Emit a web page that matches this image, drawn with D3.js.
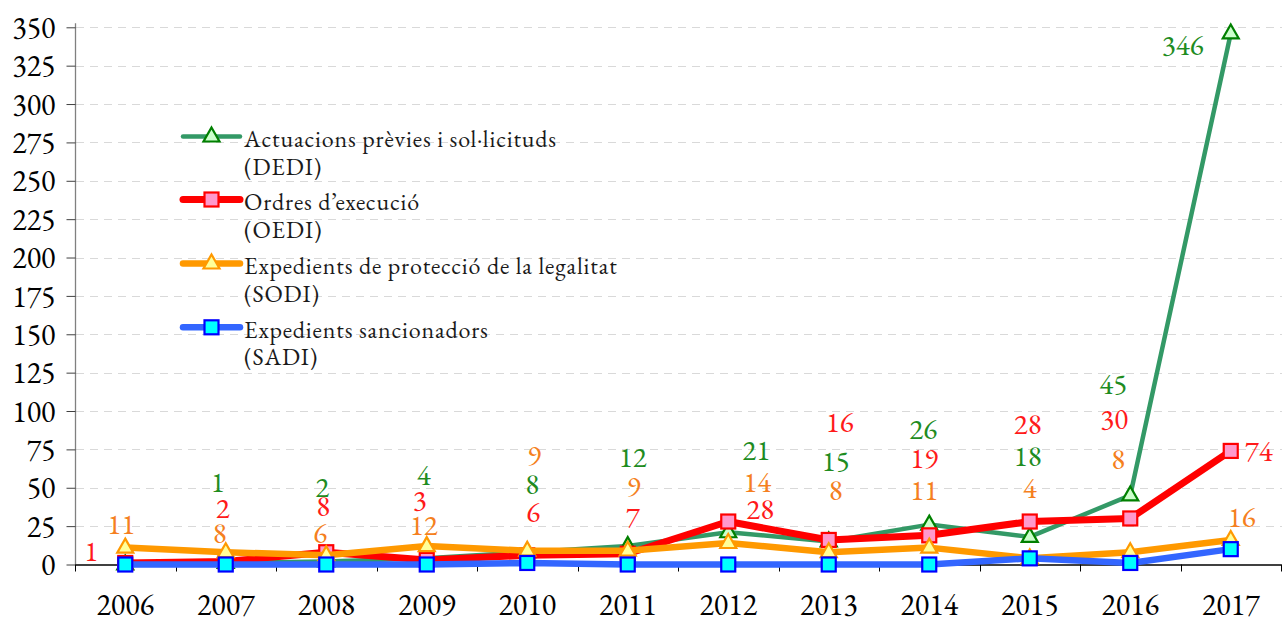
<!DOCTYPE html>
<html>
<head>
<meta charset="utf-8">
<script src="https://cdn.jsdelivr.net/npm/d3@7"></script>
<style>
  html, body { margin: 0; padding: 0; background: #fff; }
  svg { display: block; }
</style>
</head>
<body>
<svg id="chart" width="1282" height="619"></svg>
<script>
// ---------- data ----------
const years = ["2006","2007","2008","2009","2010","2011","2012","2013","2014","2015","2016","2017"];
const yTicks = [0,25,50,75,100,125,150,175,200,225,250,275,300,325,350];

const dediValues = [0, 1, 2, 4, 8, 12, 21, 15, 26, 18, 45, 346];
const oediValues = [1, 2, 8, 3, 6, 7, 28, 16, 19, 28, 30, 74];
const sodiValues = [11, 8, 6, 12, 9, 9, 14, 8, 11, 4, 8, 16];
const sadiValues = [0, 0, 0, 0, 1, 0, 0, 0, 0, 4, 1, 10];

const dediLabels = [null, "1", "2", "4", "8", "12", "21", "15", "26", "18", "45", "346"];
const oediLabels = ["1", "2", "8", "3", "6", "7", "28", "16", "19", "28", "30", "74"];
const sodiLabels = ["11", "8", "6", "12", "9", "9", "14", "8", "11", "4", "8", "16"];

// label placement (layout only): vertical anchor in axis units, horizontal shift in px
const dediLabelAt = [0, 53.6, 50.3, 58.1, 52.3, 69.9, 74.5, 67.3, 88.2, 70.5, 117.6, 338.3];
const oediLabelAt = [8.5, 36.6, 37.9, 41.8, 34.0, 30.7, 35.9, 92.7, 69.0, 91.4, 94.7, 73.8];
const sodiLabelAt = [26.1, 20.2, 20.2, 25.5, 71.0, 50.9, 53.6, 48.3, 48.3, 49.6, 68.6, 30.7];
const dediLabelDx = [0, -8, -4, -3, 5, 5, 28, 7, -6, -2, -17, -48];
const oediLabelDx = [-34, -3, -3, -7, 6, 5, 32, 11, -5, -2, -16, 28];
const sodiLabelDx = [-4, -6, -6, -3, 7, 6, 29, 7, -5, 0, -12, 11];

const series = [
  { name: ["Actuacions prèvies i sol·licituds", "(DEDI)"], values: dediValues, labels: dediLabels, labelAt: dediLabelAt, labelDx: dediLabelDx,
    line: "#339966", width: 4.5, marker: "triangle", mFill: "#ccffcc", mStroke: "#008000", text: "#1f8c1f" },
  { name: ["Ordres d’execució", "(OEDI)"], values: oediValues, labels: oediLabels, labelAt: oediLabelAt, labelDx: oediLabelDx,
    line: "#ff0000", width: 7, marker: "square", mFill: "#ff99cc", mStroke: "#ff0000", text: "#ff1a1a" },
  { name: ["Expedients de protecció de la legalitat", "(SODI)"], values: sodiValues, labels: sodiLabels, labelAt: sodiLabelAt, labelDx: sodiLabelDx,
    line: "#ff9900", width: 6.5, marker: "triangle", mFill: "#ffff99", mStroke: "#ff9900", text: "#f57f20" },
  { name: ["Expedients sancionadors", "(SADI)"], values: sadiValues, labels: null,
    line: "#3366ff", width: 6.5, marker: "square", mFill: "#00ffff", mStroke: "#0000ff", text: "#0000ff" }
];

const FONT = "'EB Garamond', 'Liberation Serif', serif";

// ---------- layout ----------
const svg = d3.select("#chart");
const x = d3.scaleBand().domain(years).range([75, 1281]).paddingInner(0).paddingOuter(0);
const y = d3.scaleLinear().domain([0, 350]).range([564.5, 27.3]);
const cx = d => x(d) + x.bandwidth() / 2;

// gridlines
svg.append("g")
  .selectAll("line")
  .data(yTicks.filter(t => t > 0))
  .join("line")
  .attr("x1", 76).attr("x2", 1282)
  .attr("y1", d => Math.round(y(d)) + 0.5).attr("y2", d => Math.round(y(d)) + 0.5)
  .attr("stroke", "#d9d9d9").attr("stroke-width", 1).attr("stroke-dasharray", "8,6");

// y axis
const yAxis = d3.axisLeft(y).tickValues(yTicks).tickSize(9).tickPadding(11).tickFormat(d3.format("d"));
const gy = svg.append("g").attr("transform", "translate(75.5,0)").call(yAxis);
gy.select(".domain").attr("stroke", "#808080").attr("stroke-width", 1.3).attr("d", `M0,${y(0)}V${y(350)-4}`);
gy.selectAll(".tick line").attr("stroke", "#404040");
gy.selectAll(".tick text").attr("dy", "0.34em")
  .style("font-family", FONT).style("font-size", "30px").attr("fill", "#000");

// x axis
const xAxis = d3.axisBottom(x).tickSize(0).tickPadding(0);
const gx = svg.append("g").attr("transform", `translate(0,${y(0)})`).call(xAxis);
gx.select(".domain").attr("stroke", "#000").attr("stroke-width", 1.3);
gx.selectAll(".tick text").attr("dy", 0).attr("y", 50)
  .style("font-family", FONT).style("font-size", "30px").attr("fill", "#000");
// tick marks between categories
svg.append("g").selectAll("line")
  .data(d3.range(years.length + 1))
  .join("line")
  .attr("x1", i => Math.round(75 + i * x.bandwidth()) + 0.5)
  .attr("x2", i => Math.round(75 + i * x.bandwidth()) + 0.5)
  .attr("y1", y(0)).attr("y2", y(0) + 7)
  .attr("stroke", "#000").attr("stroke-width", 1);

// marker helpers
function drawMarker(g, kind, px, py, fill, stroke) {
  if (kind === "square") {
    g.append("rect").attr("x", px - 7).attr("y", py - 7).attr("width", 14).attr("height", 14)
      .attr("fill", fill).attr("stroke", stroke).attr("stroke-width", 2.2);
  } else {
    g.append("path").attr("d", `M${px},${py - 9}L${px + 8},${py + 5}L${px - 8},${py + 5}Z`)
      .attr("fill", fill).attr("stroke", stroke).attr("stroke-width", 2.2).attr("stroke-linejoin", "miter");
  }
}

// series
const lineGen = d3.line().x((d, i) => cx(years[i])).y(d => y(d));
series.forEach(s => {
  const g = svg.append("g");
  g.append("path").datum(s.values).attr("d", lineGen)
    .attr("fill", "none").attr("stroke", s.line).attr("stroke-width", s.width)
    .attr("stroke-linejoin", "round").attr("stroke-linecap", "round");
  s.values.forEach((v, i) => drawMarker(g, s.marker, cx(years[i]), y(v), s.mFill, s.mStroke));
});

// data labels
series.forEach(s => {
  if (!s.labels) return;
  svg.append("g").selectAll("text")
    .data(s.labels.map((t, i) => ({ t, i })).filter(d => d.t !== null))
    .join("text")
    .attr("x", d => cx(years[d.i]) + s.labelDx[d.i])
    .attr("y", d => y(s.labelAt[d.i]))
    .attr("dy", "0.34em")
    .attr("text-anchor", "middle")
    .style("font-family", FONT).style("font-size", "29px")
    .attr("fill", s.text)
    .text(d => d.t);
});

// legend
const legend = svg.append("g");
const legendY = [136.5, 199.5, 263.5, 327.3];
series.forEach((s, k) => {
  const ly = legendY[k];
  legend.append("line").attr("x1", 183).attr("x2", 240).attr("y1", ly).attr("y2", ly)
    .attr("stroke", s.line).attr("stroke-width", s.width).attr("stroke-linecap", "round");
  drawMarker(legend, s.marker, 211.5, ly, s.mFill, s.mStroke);
  s.name.forEach((line, j) => {
    legend.append("text").attr("x", 244).attr("y", ly + 10.5 + j * 27.6)
      .style("font-family", FONT).style("font-size", "24px").style("letter-spacing", "0.85px")
      .attr("fill", "#1a1a1a").text(line);
  });
});
</script>
</body>
</html>
